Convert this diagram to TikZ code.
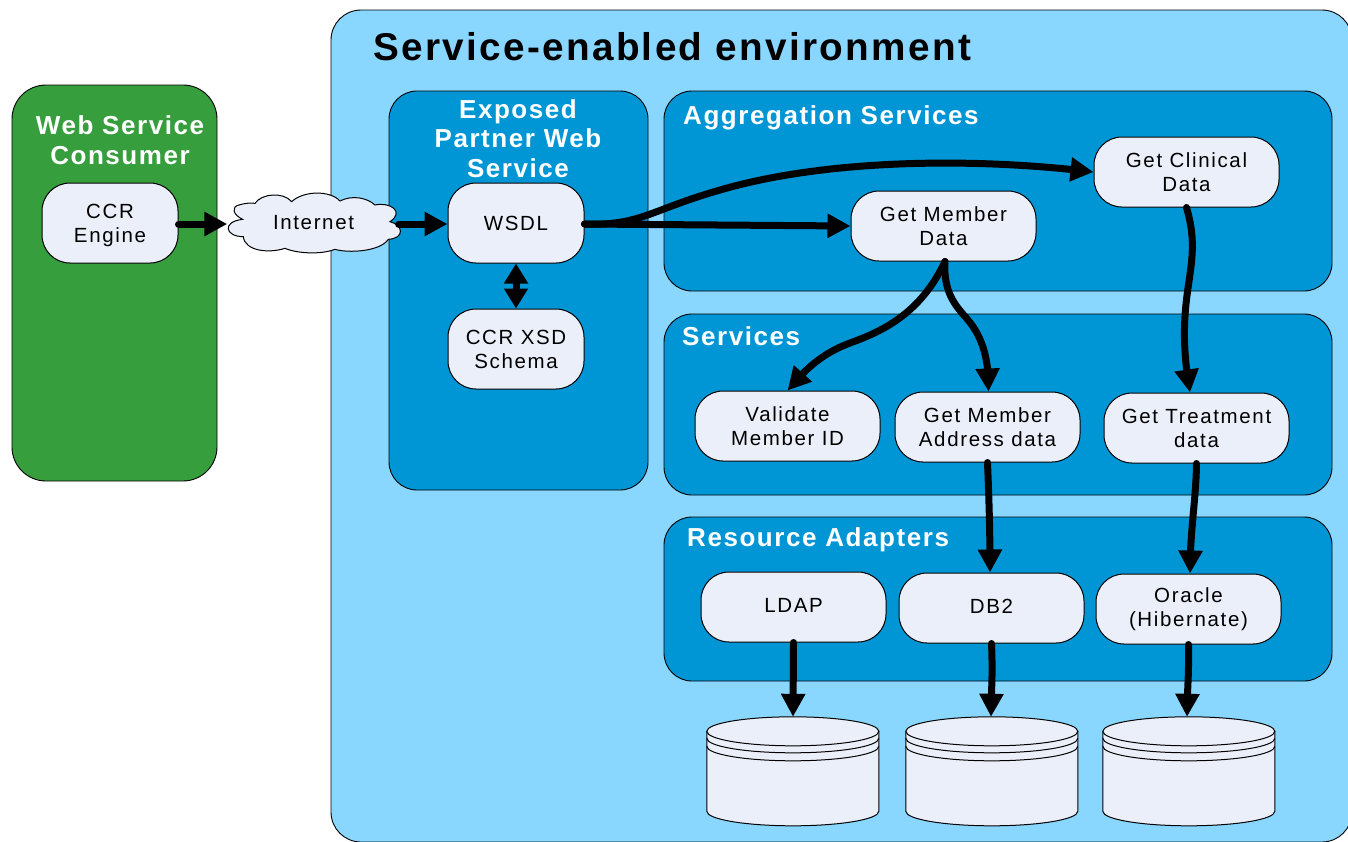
\documentclass[tikz,border=0pt]{standalone}
\usepackage{fontspec}
\setmainfont{Liberation Sans}
\usetikzlibrary{arrows.meta,calc,bending}
\definecolor{envblue}{HTML}{89D7FF}
\definecolor{panelblue}{HTML}{0096D6}
\definecolor{consgreen}{HTML}{379E3E}
\definecolor{boxfill}{HTML}{EBEFF9}
\newfontfamily\titlefont[LetterSpace=6,Ligatures=NoCommon]{Liberation Sans Bold}
\newfontfamily\boxfont[LetterSpace=8,Ligatures=NoCommon]{Liberation Sans}
\tikzset{
  x=1pt,y=-1pt,
  panelbox/.style={draw=black,line width=0.9pt,rounded corners=28pt,inner sep=0pt},
  svcbox/.style={draw=black,line width=1pt,fill=boxfill,rounded corners=28pt,minimum width=185pt,minimum height=70pt,inner sep=0pt,align=center,font=\fontsize{20.5}{24}\selectfont\boxfont,text=black},
  smallbox/.style={svcbox,minimum width=136pt,minimum height=80pt},
  paneltitle/.style={text=white,font=\fontsize{26}{29.5}\selectfont\titlefont,align=center,inner sep=0pt},
  flow/.style={line width=7pt,line cap=round,-{Triangle[length=23pt,width=23pt]}},
  bothflow/.style={line width=7pt,{Triangle[length=20pt,width=23pt]}-{Triangle[length=20pt,width=23pt]}},
  dbbody/.style={draw=black,line width=1pt,fill=boxfill},
  dbnode/.style={minimum width=172pt,minimum height=109pt,inner sep=0pt}
}
\newcommand{\dbdraw}[1]{%
  \draw[dbbody] (#1.north west) ++(0,14.5) -- ++(0,80)
     arc[start angle=180,end angle=360,x radius=86,y radius=-14.5] -- ++(0,-80) -- cycle;
  \draw[dbbody] (#1.north west) ++(0,14.5) arc[start angle=180,end angle=-180,x radius=86,y radius=14.5];
  \draw[line width=1pt] (#1.north west) ++(0,21.5) arc[start angle=180,end angle=360,x radius=86,y radius=-14.5];
  \draw[line width=1pt] (#1.north west) ++(0,29.5) arc[start angle=180,end angle=360,x radius=86,y radius=-14.5];
}
\begin{document}
\begin{tikzpicture}
\useasboundingbox (0,0) rectangle (1348,841);
\clip (0,0) rectangle (1348,841);
% panels
\node[panelbox,fill=consgreen,rounded corners=34pt,minimum width=205pt,minimum height=396pt] (consumer) at (114.5,283) {};
\node[panelbox,fill=envblue,rounded corners=30pt,minimum width=1021pt,minimum height=832pt] (env) at (841.5,426) {};
\node[panelbox,fill=panelblue,minimum width=259pt,minimum height=399pt] (partner) at (518.5,290.5) {};
\node[panelbox,fill=panelblue,minimum width=668pt,minimum height=200pt] (agg) at (998,191) {};
\node[panelbox,fill=panelblue,minimum width=668pt,minimum height=181pt] (svc) at (998,404.5) {};
\node[panelbox,fill=panelblue,minimum width=668pt,minimum height=164pt] (res) at (998,599) {};
% titles
\node[paneltitle,text=black,font=\fontsize{38.7}{42}\selectfont\titlefont,anchor=west] (envt) at (373,47) {Service-enabled environment};
\node[paneltitle] (const) at (120,140) {Web Service\\Consumer};
\node[paneltitle] (partt) at (518,138.5) {Exposed\\Partner Web\\Service};
\node[paneltitle,anchor=west] (aggt) at (683,118) {Aggregation Services};
\node[paneltitle,anchor=west] (svct) at (682,336) {Services};
\node[paneltitle,anchor=west] (rest) at (687,540) {Resource Adapters};
% service boxes
\node[smallbox] (ccr) at (110,223) {\rule{0pt}{19pt}CCR\\Engine};
\node[smallbox] (wsdl) at (516,223) {WSDL};
\node[smallbox] (xsd) at (516,349) {CCR XSD\\Schema};
\node[svcbox] (clin) at (1186.5,172) {Get Clinical\\Data};
\node[svcbox] (gmd) at (943.5,226) {Get Member\\Data};
\node[svcbox] (val) at (787.5,426) {Validate\\Member ID};
\node[svcbox] (addr) at (987.5,427) {Get Member\\Address data};
\node[svcbox] (treat) at (1196.5,428) {Get Treatment\\data};
\node[svcbox] (ldap) at (793.5,607) {\raisebox{4pt}{LDAP}};
\node[svcbox] (db2) at (991.5,608) {\raisebox{4pt}{DB2}};
\node[svcbox] (ora) at (1188.5,609) {Oracle\\(Hibernate)};
% cloud
\begin{scope}[shift={(220,170)},x=0.3333pt,y=-0.3333pt]
\draw[draw=black,line width=1pt,fill=boxfill]
  (68,148) .. controls (40,135) and (30,110) .. (60,104)
  .. controls (75,100) and (90,98) .. (105,100)
  .. controls (125,70) and (190,65) .. (215,95)
  .. controls (250,62) and (330,60) .. (360,93)
  .. controls (395,75) and (440,82) .. (465,105)
  .. controls (510,95) and (555,125) .. (510,155)
  .. controls (550,165) and (555,205) .. (505,208)
  .. controls (480,245) and (385,250) .. (345,238)
  .. controls (300,255) and (230,250) .. (195,235)
  .. controls (150,250) and (75,245) .. (70,200)
  .. controls (15,200) and (5,155) .. (68,148) -- cycle;
\end{scope}
\node[minimum width=174pt,minimum height=58pt,inner sep=0pt,font=\fontsize{20.5}{24}\selectfont\boxfont] (net) at (313.5,223) {Internet};
% databases
\node[dbnode] (d1) at (793,771.5) {};
\node[dbnode] (d2) at (992,771.5) {};
\node[dbnode] (d3) at (1189,771.5) {};
\dbdraw{d1}\dbdraw{d2}\dbdraw{d3}
% connectors
\draw[flow] (ccr.east) ++(0,1) -- ($(net.west)+(1,1)$);
\draw[flow] ($(net.east)+(-2,1)$) -- ($(wsdl.west)+(0,1)$);
\draw[bothflow] (wsdl.south) -- (xsd.north);
\draw[flow] ($(wsdl.east)+(0,1)$) -- (gmd.west);
\draw[flow] ($(wsdl.east)+(0,1)$) .. controls (640,226) and (650,210) .. (720,190) .. controls (830,158) and (980,158) .. (clin.west);
\draw[flow] ($(gmd.south)+(1.5,0)$) .. controls (920,315) and (880,332) .. (850,343) .. controls (820,354) and (803,372) .. (val.north);
\draw[flow] ($(gmd.south)+(1.5,0)$) .. controls (943,295) and (958,308) .. (968,320) .. controls (983,338) and (989,360) .. ($(addr.north)+(1,0)$);
\draw[flow] (clin.south) .. controls (1205,270) and (1172,290) .. ($(treat.north)+(-6.5,0)$);
\draw[flow] (addr.south) .. controls (989,500) and (990,530) .. ($(db2.north)+(-1.5,0)$);
\draw[flow] (treat.south) .. controls (1196,500) and (1190,530) .. ($(ora.north)+(1.5,0)$);
\draw[flow] (ldap.south) -- (d1.north);
\draw[flow] (db2.south) .. controls (993,680) and (991,690) .. ($(d2.north)+(-1,0)$);
\draw[flow] (ora.south) .. controls (1189,680) and (1187,690) .. ($(d3.north)+(-2,0)$);
\end{tikzpicture}
\end{document}
